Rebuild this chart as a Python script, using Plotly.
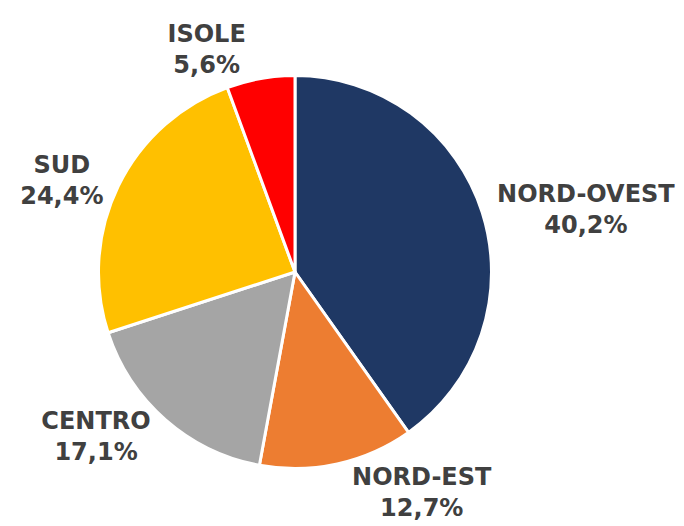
import plotly.graph_objects as go

regions = ["NORD-OVEST", "NORD-EST", "CENTRO", "SUD", "ISOLE"]
shares = [40.2, 12.7, 17.1, 24.4, 5.6]
share_labels = ["40,2%", "12,7%", "17,1%", "24,4%", "5,6%"]
colors = ["#1F3864", "#ED7D31", "#A5A5A5", "#FFC000", "#FF0000"]

W, H = 684, 526
# page body has an 8px offset; target pie centre (295, 272) in the screenshot
cx, cy, R = 295 - 8, 272 - 8, 196.5

fig = go.Figure(go.Pie(
    labels=regions,
    values=shares,
    text=[f"{r}<br>{s}" for r, s in zip(regions, share_labels)],
    textinfo="text",
    textposition="outside",
    sort=False,
    direction="clockwise",
    rotation=0,
    marker=dict(colors=colors, line=dict(color="white", width=3)),
    textfont=dict(family="DejaVu Sans", size=24, color="#404040", weight="bold"),
    showlegend=False,
    hoverinfo="label+text",
    domain=dict(x=[(cx - R) / W, (cx + R) / W], y=[(H - cy - R) / H, (H - cy + R) / H]),
    automargin=False,
))
fig.update_layout(
    width=W, height=H,
    margin=dict(l=0, r=0, t=0, b=0),
    paper_bgcolor="white",
)
fig.write_html("out.html")
